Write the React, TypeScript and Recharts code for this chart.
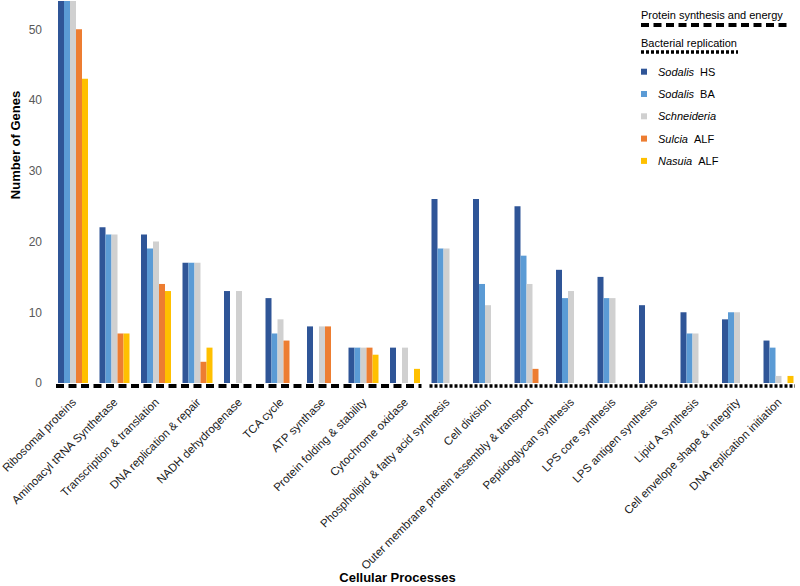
import React from 'react';
import { BarChart, Bar, XAxis, YAxis, Legend, ReferenceArea, Label } from 'recharts';

const categories = [
  'Ribosomal proteins',
  'Aminoacyl tRNA Synthetase',
  'Transcription & translation',
  'DNA replication & repair',
  'NADH dehydrogenase',
  'TCA cycle',
  'ATP synthase',
  'Protein folding & stability',
  'Cytochrome oxidase',
  'Phospholipid & fatty acid synthesis',
  'Cell division',
  'Outer membrane protein assembly & transport',
  'Peptidoglycan synthesis',
  'LPS core synthesis',
  'LPS antigen synthesis',
  'Lipid A synthesis',
  'Cell envelope shape & integrity',
  'DNA replication initiation',
];

const sodalisHS = [55, 22, 21, 17, 13, 12, 8, 5, 5, 26, 26, 25, 16, 15, 11, 10, 9, 6];
const sodalisBA = [55, 21, 19, 17, 0, 7, 0, 5, 0, 19, 14, 18, 12, 12, 0, 7, 10, 5];
const schneideria = [55, 21, 20, 17, 13, 9, 8, 5, 5, 19, 11, 14, 13, 12, 0, 7, 10, 1];
const sulcia = [50, 7, 14, 3, 0, 6, 8, 5, 0, 0, 0, 2, 0, 0, 0, 0, 0, 0];
const nasuia = [43, 7, 13, 5, 0, 0, 0, 4, 2, 0, 0, 0, 0, 0, 0, 0, 0, 1];

const yTicks = [0, 10, 20, 30, 40, 50];

const seriesKeys = ['hs', 'ba', 'sch', 'sul', 'nas'];
const seriesGenus = ['Sodalis', 'Sodalis', 'Schneideria', 'Sulcia', 'Nasuia'];
const seriesStrain = ['HS', 'BA', '', 'ALF', 'ALF'];
const seriesColors = ['#2F5597', '#5B9BD5', '#D0D0D0', '#ED7D31', '#FFC000'];

const groupLabels = ['Protein synthesis and energy', 'Bacterial replication'];

const data = categories.map((name, i) => ({
  name,
  hs: sodalisHS[i],
  ba: sodalisBA[i],
  sch: schneideria[i],
  sul: sulcia[i],
  nas: nasuia[i],
}));

const FONT = '"Liberation Sans", Arial, Helvetica, sans-serif';
const DASH = '8 4.5';
const DOT = '3 2';

const XTick = (props: any) => {
  const { x, y, payload } = props;
  const ax = x + 4;
  const ay = y + 12;
  return (
    <text
      x={ax}
      y={ay}
      textAnchor="end"
      transform={`rotate(-45, ${ax}, ${ay})`}
      fontSize={11.5}
      fontFamily={FONT}
      fill="#1a1a1a"
    >
      {payload.value}
    </text>
  );
};

const makeLineShape = (dash: string, width: number) => (props: any) => {
  const { x, y, width: w, height: h } = props;
  const yy = y + h + 3;
  return (
    <line
      x1={x + 4}
      x2={x + w - 4}
      y1={yy}
      y2={yy}
      stroke="#000"
      strokeWidth={width}
      strokeDasharray={dash}
    />
  );
};

const LegendContent = () => (
  <svg width={170} height={175} style={{ display: 'block', overflow: 'visible' }}>
    <text x={11} y={19} fontSize={11} fontFamily={FONT} fill="#000">
      {groupLabels[0]}
    </text>
    <line x1={11} x2={157} y1={25} y2={25} stroke="#000" strokeWidth={4} strokeDasharray={DASH} />
    <text x={11} y={47} fontSize={11} fontFamily={FONT} fill="#000">
      {groupLabels[1]}
    </text>
    <line x1={11} x2={108} y1={52} y2={52} stroke="#000" strokeWidth={3.5} strokeDasharray={DOT} />
    {seriesKeys.map((k, i) => {
      const cy = 71.7 + i * 22.3;
      return (
        <g key={k}>
          <rect x={11} y={cy - 3} width={6} height={6} fill={seriesColors[i]} />
          <text x={28} y={cy + 4} fontSize={11} fontFamily={FONT} fill="#000">
            <tspan fontStyle="italic">{seriesGenus[i]}</tspan>
            {seriesStrain[i] ? <tspan dx={6}>{seriesStrain[i]}</tspan> : null}
          </text>
        </g>
      );
    })}
  </svg>
);

export default function App() {
  return (
    <div style={{ position: 'absolute', left: 0, top: 0, width: 800, height: 586, background: '#fff' }}>
      <BarChart
        width={800}
        height={586}
        data={data}
        margin={{ top: 1, right: 1, left: 8, bottom: 0 }}
        barGap={0}
        barSize={6}
      >
        <XAxis
          dataKey="name"
          interval={0}
          height={203}
          axisLine={false}
          tickLine={false}
          tick={<XTick />}
        >
          <Label
            content={(p: any) => {
              const vb = p.viewBox;
              return (
                <text
                  x={vb.x + vb.width / 2 - 28}
                  y={vb.y + vb.height - 4}
                  textAnchor="middle"
                  fontSize={13}
                  fontWeight="bold"
                  fontFamily={FONT}
                  fill="#000"
                >
                  Cellular Processes
                </text>
              );
            }}
          />
        </XAxis>
        <YAxis
          width={44}
          domain={[0, 54]}
          allowDataOverflow
          ticks={yTicks}
          axisLine={false}
          tickLine={false}
          tickMargin={4}
          tick={{ fontSize: 12, fill: '#595959', fontFamily: FONT }}
        >
          <Label
            content={() => (
              <text
                x={20}
                y={145}
                transform="rotate(-90, 20, 145)"
                textAnchor="middle"
                fontSize={13}
                fontWeight="bold"
                fontFamily={FONT}
                fill="#000"
              >
                Number of Genes
              </text>
            )}
          />
        </YAxis>
        <Legend
          layout="vertical"
          align="center"
          verticalAlign="middle"
          content={<LegendContent />}
          wrapperStyle={{ position: 'absolute', left: 630, top: 0, width: 170, height: 175 }}
        />
        {seriesKeys.map((k, i) => (
          <Bar key={k} dataKey={k} fill={seriesColors[i]} isAnimationActive={false} />
        ))}
        <ReferenceArea
          x1={categories[0]}
          x2={categories[8]}
          y1={0}
          y2={1}
          shape={makeLineShape(DASH, 4)}
        />
        <ReferenceArea
          x1={categories[9]}
          x2={categories[17]}
          y1={0}
          y2={1}
          shape={makeLineShape(DOT, 3.5)}
        />
      </BarChart>
    </div>
  );
}
